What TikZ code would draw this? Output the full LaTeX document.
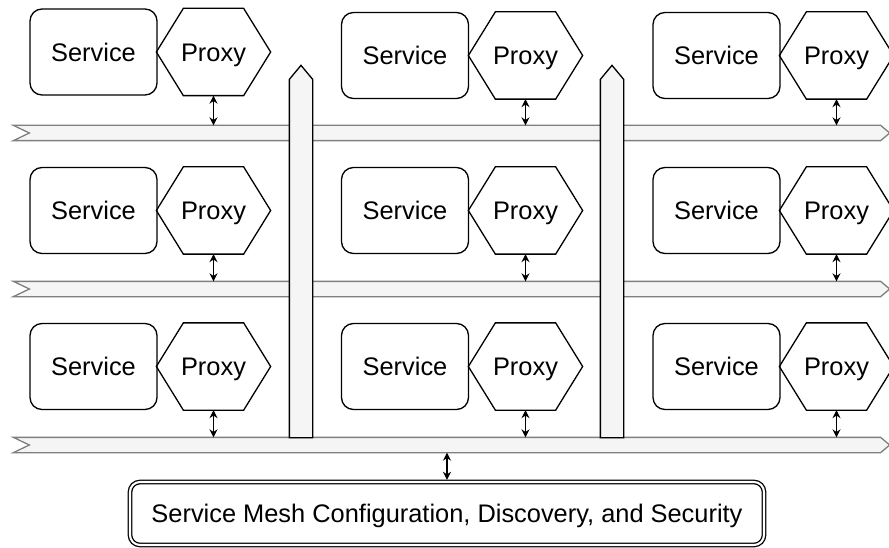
\documentclass[tikz,border=0pt]{standalone}
\usepackage{fontspec}
\setmainfont{Liberation Sans}
\usetikzlibrary{arrows.meta}
\definecolor{barfill}{HTML}{F5F5F5}
\definecolor{barline}{HTML}{7F7F7F}
\tikzstyle{label text}=[text height=18.2pt, text depth=0pt]
\tikzstyle{service}=[draw, label text, rounded corners=12pt, minimum width=127pt, minimum height=86pt, inner sep=0pt]
\tikzstyle{proxy}=[label text, minimum width=113pt, minimum height=86pt, inner sep=0pt,
  append after command={(\tikzlastnode.west) -- ([xshift=27pt]\tikzlastnode.north west)
    -- ([xshift=-27pt]\tikzlastnode.north east) -- (\tikzlastnode.east)
    -- ([xshift=-27pt]\tikzlastnode.south east) -- ([xshift=27pt]\tikzlastnode.south west) -- cycle}]
\tikzstyle{bus}=[minimum width=875pt, minimum height=14pt, inner sep=0pt,
  append after command={(\tikzlastnode.north west) -- ([xshift=-9pt]\tikzlastnode.north east)
    -- (\tikzlastnode.east) -- ([xshift=-9pt]\tikzlastnode.south east)
    -- (\tikzlastnode.south west) -- ([xshift=16pt]\tikzlastnode.west) -- cycle}]
\tikzstyle{riser}=[minimum width=22pt, minimum height=371pt, inner sep=0pt,
  append after command={(\tikzlastnode.south west) -- ([yshift=-14pt]\tikzlastnode.north west)
    -- (\tikzlastnode.north) -- ([yshift=-14pt]\tikzlastnode.north east)
    -- (\tikzlastnode.south east) -- cycle}]
\tikzstyle{bus line}=[draw=barline, fill=barfill]
\tikzstyle{riser line}=[draw=black, fill=barfill]
\tikzstyle{link}=[<->, line width=1.5pt]
\tikzstyle{mesh}=[draw, label text, double, double distance=2.1pt, rounded corners=10pt, outer sep=2.2pt,
  minimum width=634pt, minimum height=63pt, inner sep=0pt]

\begin{document}
\begin{tikzpicture}[>={Stealth[length=8pt,width=8pt]},x=1pt,y=-1pt,line width=1.3pt,
    font=\fontsize{25.4pt}{30pt}\selectfont]
    \useasboundingbox (0,0) rectangle (889,548);

    % Buses
    \draw[bus line] (451.5,133) node[bus] (bus1) {};
    \draw[bus line] (451.5,289) node[bus] (bus2) {};
    \draw[bus line] (451.5,445) node[bus] (bus3) {};

    % Risers
    \draw[riser line] (301,251.5) node[riser] (rise1) {};
    \draw[riser line] (612,251.5) node[riser] (rise2) {};

    % Services
    \draw (93.5,52) node[service] (s11) {Service};
    \draw (405,55.5) node[service] (s12) {Service};
    \draw (716.5,55.5) node[service] (s13) {Service};
    \draw (93.5,210.5) node[service] (s21) {Service};
    \draw (405,210.5) node[service] (s22) {Service};
    \draw (716.5,210.5) node[service] (s23) {Service};
    \draw (93.5,366.5) node[service] (s31) {Service};
    \draw (405,366.5) node[service] (s32) {Service};
    \draw (716.5,366.5) node[service] (s33) {Service};

    % Proxies
    \draw (213.5,52) node[proxy] (p11) {Proxy};
    \draw (525.5,55.5) node[proxy] (p12) {Proxy};
    \draw (836.5,55.5) node[proxy] (p13) {Proxy};
    \draw (213.5,210.5) node[proxy] (p21) {Proxy};
    \draw (525.5,210.5) node[proxy] (p22) {Proxy};
    \draw (836.5,210.5) node[proxy] (p23) {Proxy};
    \draw (213.5,366.5) node[proxy] (p31) {Proxy};
    \draw (525.5,366.5) node[proxy] (p32) {Proxy};
    \draw (836.5,366.5) node[proxy] (p33) {Proxy};

    % Proxy to bus
    \draw[link] (p11.south) -- (p11.south |- bus1.north);
    \draw[link] (p12.south) -- (p12.south |- bus1.north);
    \draw[link] (p13.south) -- (p13.south |- bus1.north);
    \draw[link] (p21.south) -- (p21.south |- bus2.north);
    \draw[link] (p22.south) -- (p22.south |- bus2.north);
    \draw[link] (p23.south) -- (p23.south |- bus2.north);
    \draw[link] (p31.south) -- (p31.south |- bus3.north);
    \draw[link] (p32.south) -- (p32.south |- bus3.north);
    \draw[link] (p33.south) -- (p33.south |- bus3.north);

    % Control plane
    \draw (447,513.5) node[mesh] (mesh) {Service Mesh Configuration, Discovery, and Security};
    \draw[link] (mesh.north |- bus3.south) -- (mesh.north);

\end{tikzpicture}
\end{document}
